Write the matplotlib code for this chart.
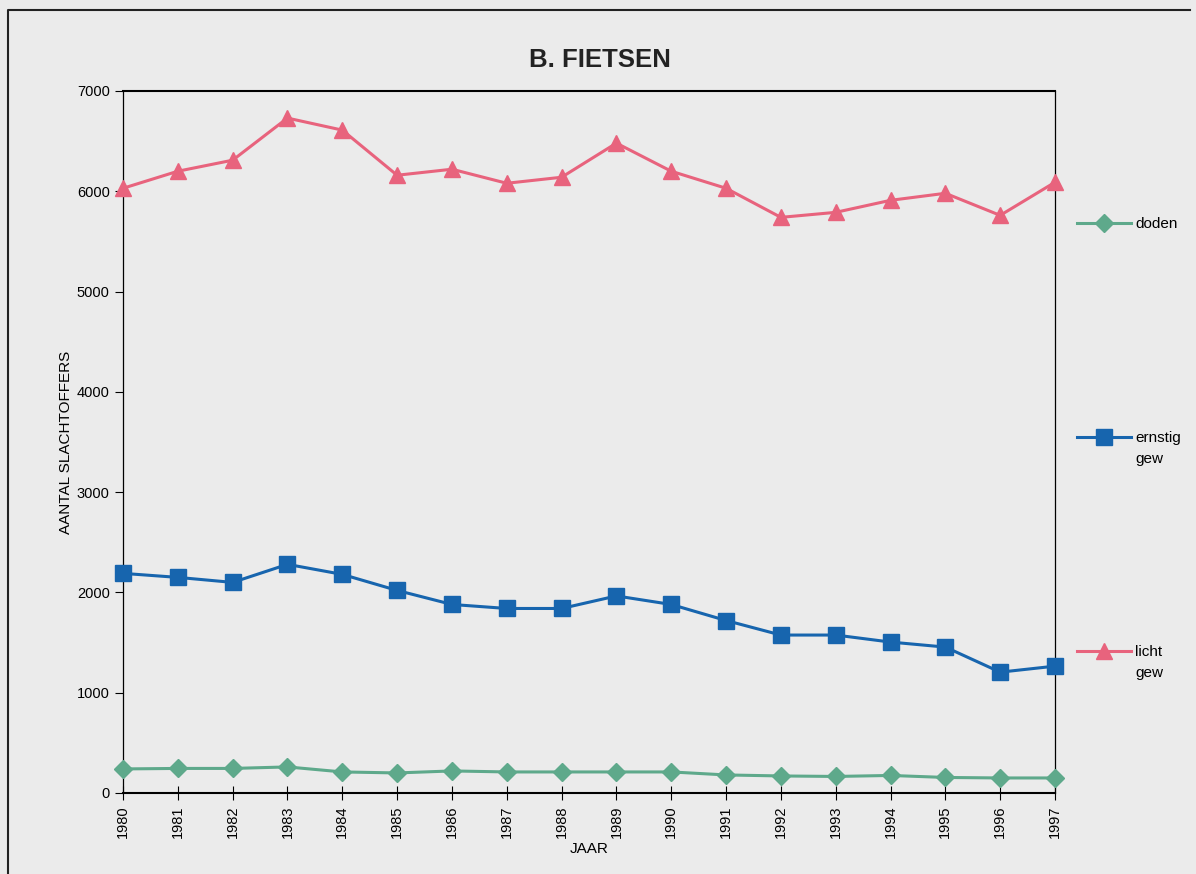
import matplotlib.pyplot as plt
from matplotlib.lines import Line2D

plt.rcParams['font.family'] = ['Liberation Sans', 'DejaVu Sans']

jaren = list(range(1980, 1998))
doden = [240, 245, 245, 260, 210, 200, 220, 210, 210, 210, 210, 180, 170, 165, 175, 155, 150, 150]
ernstig = [2190, 2150, 2100, 2280, 2180, 2020, 1880, 1840, 1840, 1965, 1880, 1720, 1575, 1575, 1505, 1455, 1205, 1265]
licht = [6030, 6200, 6310, 6730, 6610, 6160, 6220, 6080, 6140, 6480, 6200, 6030, 5740, 5790, 5910, 5980, 5760, 6090]

series = [
    ('doden', doden, '#5ea98b', 'D', 9),
    ('ernstig\ngew', ernstig, '#1765ae', 's', 11),
    ('licht\ngew', licht, '#e8637d', '^', 11),
]

bg = '#ebebeb'
fig = plt.figure(figsize=(11.96, 8.74), dpi=100, facecolor=bg)
ax = fig.add_axes([123 / 1196, 1 - 793 / 874, (1055 - 123) / 1196, (793 - 91) / 874])
ax.set_facecolor(bg)

x = list(range(len(jaren)))
for naam, waarden, kleur, marker, ms in series:
    ax.plot(x, waarden, color=kleur, marker=marker, markersize=ms, linewidth=2.2,
            clip_on=False, zorder=3)

ax.set_xlim(0, len(jaren) - 1)
ax.set_ylim(0, 7000)
ax.set_yticks(range(0, 7001, 1000))
ax.set_xticks(x)
ax.set_xticklabels([str(j) for j in jaren], rotation=90, fontsize=10.5)
ax.tick_params(axis='y', labelsize=10.5, direction='out', length=6)
ax.tick_params(axis='x', direction='inout', length=10, pad=4)
for s in ax.spines.values():
    s.set_linewidth(0.9)
ax.spines['bottom'].set_linewidth(1.5)
ax.spines['top'].set_linewidth(1.5)

ax.set_xlabel('JAAR', fontsize=11, labelpad=3)
ax.set_ylabel('AANTAL SLACHTOFFERS', fontsize=11, labelpad=3)
fig.text(600 / 1196, 1 - 60 / 874, 'B. FIETSEN', ha='center', va='center',
         fontsize=18.5, fontweight='bold', color='#222222')

# legenda rechts
leg_y = [223, 437, 651]
for (naam, waarden, kleur, marker, ms), py in zip(series, leg_y):
    yf = 1 - py / 874
    fig.add_artist(Line2D([1077 / 1196, 1104 / 1196, 1131 / 1196], [yf, yf, yf],
                          color=kleur, linewidth=2.2, marker=marker, markersize=ms,
                          markevery=[1], transform=fig.transFigure))
    fig.text(1135 / 1196, yf + 6 / 874, naam, ha='left', va='top', fontsize=11,
             linespacing=1.6)

# kader
fig.add_artist(Line2D([8 / 1196, 8 / 1196, 1190 / 1196],
                      [0, 1 - 10 / 874, 1 - 10 / 874], color='#222222',
                      linewidth=1.5, transform=fig.transFigure))

fig.savefig('out.png', dpi=100, facecolor=bg)
